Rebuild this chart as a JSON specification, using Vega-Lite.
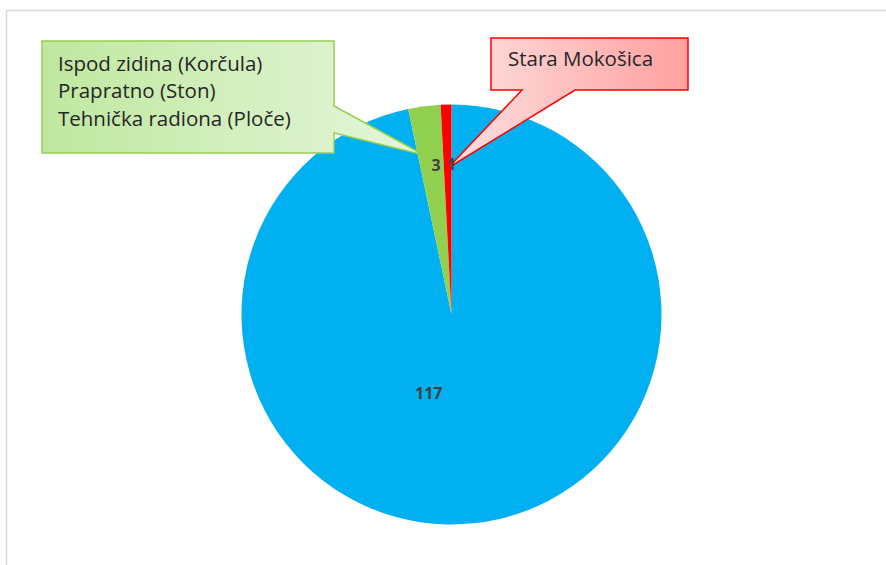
{
  "$schema": "https://vega.github.io/schema/vega-lite/v6.json",
  "width": 869,
  "height": 501,
  "padding": {"left": 17, "top": 64, "right": 0, "bottom": 0},
  "autosize": {"type": "none"},
  "background": "white",
  "config": {"view": {"stroke": null}},
  "data": {"values": [
    {"name": "Ostalo", "value": 117, "i": 1},
    {"name": "Ispod zidina (Korčula), Prapratno (Ston), Tehnička radiona (Ploče)", "value": 3, "i": 2},
    {"name": "Stara Mokošica", "value": 1, "i": 3}
  ]},
  "layer": [
    {
      "data": {"values": [{}]},
      "mark": {"type": "rect", "fill": "transparent", "stroke": "#d9d9d9", "strokeWidth": 1.5},
      "encoding": {
        "x": {"datum": 6.5, "type": "quantitative", "scale": {"domain": [17, 886], "zero": false, "nice": false}, "axis": null},
        "x2": {"datum": 1000},
        "y": {"datum": 10.5, "type": "quantitative", "scale": {"domain": [64, 565], "zero": false, "nice": false, "reverse": true}, "axis": null},
        "y2": {"datum": 1000}
      }
    },
    {
      "mark": {"type": "arc", "radius": 210},
      "encoding": {
        "theta": {"field": "value", "type": "quantitative", "stack": true},
        "order": {"field": "i", "type": "quantitative"},
        "color": {"field": "name", "type": "nominal", "legend": null,
          "scale": {"domain": ["Ostalo", "Ispod zidina (Korčula), Prapratno (Ston), Tehnička radiona (Ploče)", "Stara Mokošica"],
                    "range": ["#00b0f0", "#92d050", "#ff0000"]}}
      }
    },
    {
      "data": {"values": [{}]},
      "mark": {"type": "point", "shape": "M0,0L292,0L292,65L382,114L292,92L292,112L0,112Z", "size": 4, "filled": true, "opacity": 1,
        "fill": {"gradient": "linear", "x1": 0, "y1": 0, "x2": 1, "y2": 0, "stops": [{"offset": 0, "color": "#bfe89f"}, {"offset": 1, "color": "#e6f6dc"}]},
        "stroke": "#92d050", "strokeWidth": 1.5},
      "encoding": {
        "x": {"datum": 42, "type": "quantitative", "scale": {"domain": [17, 886], "zero": false, "nice": false}, "axis": null},
        "y": {"datum": 41, "type": "quantitative", "scale": {"domain": [64, 565], "zero": false, "nice": false, "reverse": true}, "axis": null}
      }
    },
    {
      "data": {"values": [{}]},
      "mark": {"type": "point", "shape": "M0,0L197,0L197,52L84,52L-43,130L31,52L0,52Z", "size": 4, "filled": true, "opacity": 1,
        "fill": {"gradient": "linear", "x1": 0, "y1": 0, "x2": 1, "y2": 0, "stops": [{"offset": 0, "color": "#ffe0e0"}, {"offset": 1, "color": "#ffa0a0"}]},
        "stroke": "#ff0000", "strokeWidth": 1.5},
      "encoding": {
        "x": {"datum": 491, "type": "quantitative", "scale": {"domain": [17, 886], "zero": false, "nice": false}, "axis": null},
        "y": {"datum": 38, "type": "quantitative", "scale": {"domain": [64, 565], "zero": false, "nice": false, "reverse": true}, "axis": null}
      }
    },
    {
      "mark": {"type": "text", "radius": 150, "dx": 4, "font": "Open Sans", "fontSize": 16, "fontWeight": "bold", "color": "#404040"},
      "encoding": {
        "theta": {"field": "value", "type": "quantitative", "stack": true},
        "order": {"field": "i", "type": "quantitative"},
        "text": {"condition": {"test": "datum.value < 100", "field": "value", "type": "quantitative"}, "value": ""}
      }
    },
    {
      "mark": {"type": "text", "radius": 80, "dx": -31, "font": "Open Sans", "fontSize": 16, "fontWeight": "bold", "color": "#404040"},
      "encoding": {
        "theta": {"field": "value", "type": "quantitative", "stack": true},
        "order": {"field": "i", "type": "quantitative"},
        "text": {"condition": {"test": "datum.value >= 100", "field": "value", "type": "quantitative"}, "value": ""}
      }
    },
    {
      "data": {"values": [{}]},
      "mark": {"type": "text", "align": "left", "baseline": "alphabetic", "font": "Open Sans", "fontSize": 20.5, "lineHeight": 27.5, "color": "#262626",
        "text": ["Ispod zidina (Korčula)", "Prapratno (Ston)", "Tehnička radiona (Ploče)"]},
      "encoding": {
        "x": {"datum": 58, "type": "quantitative", "scale": {"domain": [17, 886], "zero": false, "nice": false}, "axis": null},
        "y": {"datum": 70.5, "type": "quantitative", "scale": {"domain": [64, 565], "zero": false, "nice": false, "reverse": true}, "axis": null}
      }
    },
    {
      "data": {"values": [{}]},
      "mark": {"type": "text", "align": "left", "baseline": "alphabetic", "font": "Open Sans", "fontSize": 20.5, "color": "#262626", "text": "Stara Mokošica"},
      "encoding": {
        "x": {"datum": 508, "type": "quantitative", "scale": {"domain": [17, 886], "zero": false, "nice": false}, "axis": null},
        "y": {"datum": 66, "type": "quantitative", "scale": {"domain": [64, 565], "zero": false, "nice": false, "reverse": true}, "axis": null}
      }
    }
  ]
}
